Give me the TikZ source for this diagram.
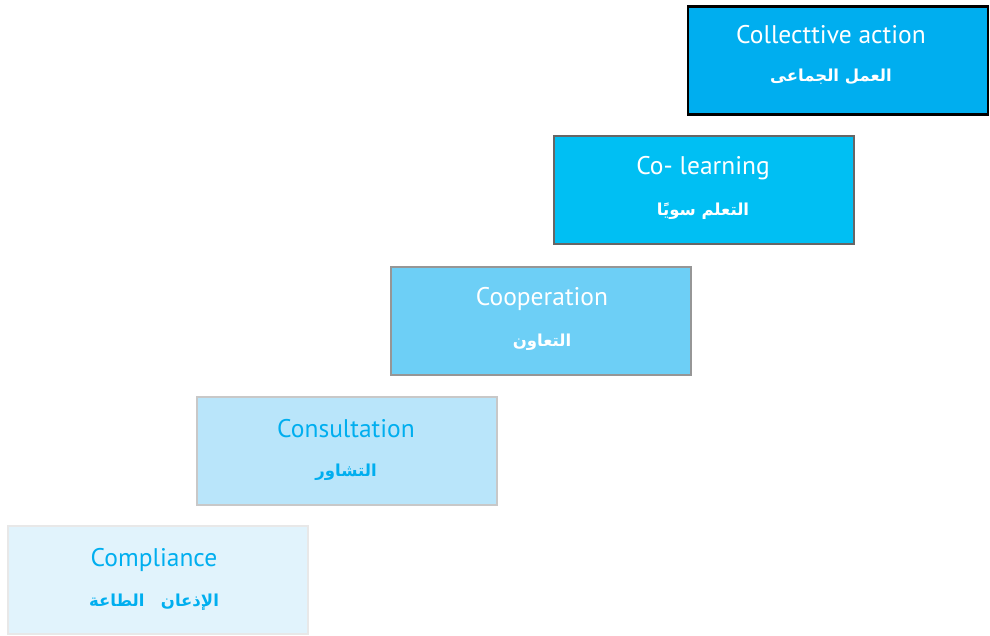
\documentclass[tikz,border=0pt]{standalone}
\usepackage{fontspec}
\setmainfont{PT Sans}
\newfontfamily\arabicfont[Script=Arabic]{DejaVu Sans}
\TeXXeTstate=1
\definecolor{fillA}{RGB}{0,174,239}
\definecolor{fillB}{RGB}{0,191,243}
\definecolor{fillC}{RGB}{109,207,246}
\definecolor{fillD}{RGB}{185,229,250}
\definecolor{fillE}{RGB}{225,243,252}
\definecolor{edgeB}{RGB}{102,102,102}
\definecolor{edgeC}{RGB}{150,150,150}
\definecolor{edgeD}{RGB}{200,200,200}
\definecolor{edgeE}{RGB}{232,232,232}
\definecolor{inkblue}{RGB}{0,174,239}
\tikzset{
  stage/.style={rectangle, minimum width=300pt, minimum height=108pt, inner sep=0pt, line width=2pt},
  entext/.style={inner sep=0pt, font=\fontsize{25.5}{30}\selectfont},
  artext/.style={inner sep=0pt, font=\arabicfont\bfseries\fontsize{16.5}{20}\selectfont},
}
\begin{document}
\begin{tikzpicture}[x=1pt,y=-1pt]
\useasboundingbox (0,0) rectangle (990,635);
% the five steps of the staircase, bottom-left to top-right
\node[stage, fill=fillE, draw=edgeE] (s1) at (158,580) {};
\node[stage, fill=fillD, draw=edgeD] (s2) at (346.5,450.5) {};
\node[stage, fill=fillC, draw=edgeC] (s3) at (540.5,320.5) {};
\node[stage, fill=fillB, draw=edgeB] (s4) at (704,190) {};
\node[stage, fill=fillA, draw=black, line width=2.5pt] (s5) at (838,60.5) {};
% labels
\node[entext, text=inkblue] (e1) at (154,560) {Compliance};
\node[artext, text=inkblue] (a1) at (154,602) {\beginR الإذعان\quad الطاعة\endR};
\node[entext, text=inkblue] (e2) at (346,429) {Consultation};
\node[artext, text=inkblue] (a2) at (346,472) {\beginR التشاور\endR};
\node[entext, text=white] (e3) at (542,299) {Cooperation};
\node[artext, text=white] (a3) at (542,342) {\beginR التعاون\endR};
\node[entext, text=white] (e4) at (703,168) {Co- learning};
\node[artext, text=white] (a4) at (703,211) {\beginR التعلم سويًا\endR};
\node[entext, text=white] (e5) at (831,35) {Collecttive action};
\node[artext, text=white] (a5) at (831,77) {\beginR العمل الجماعى\endR};
\end{tikzpicture}
\end{document}
